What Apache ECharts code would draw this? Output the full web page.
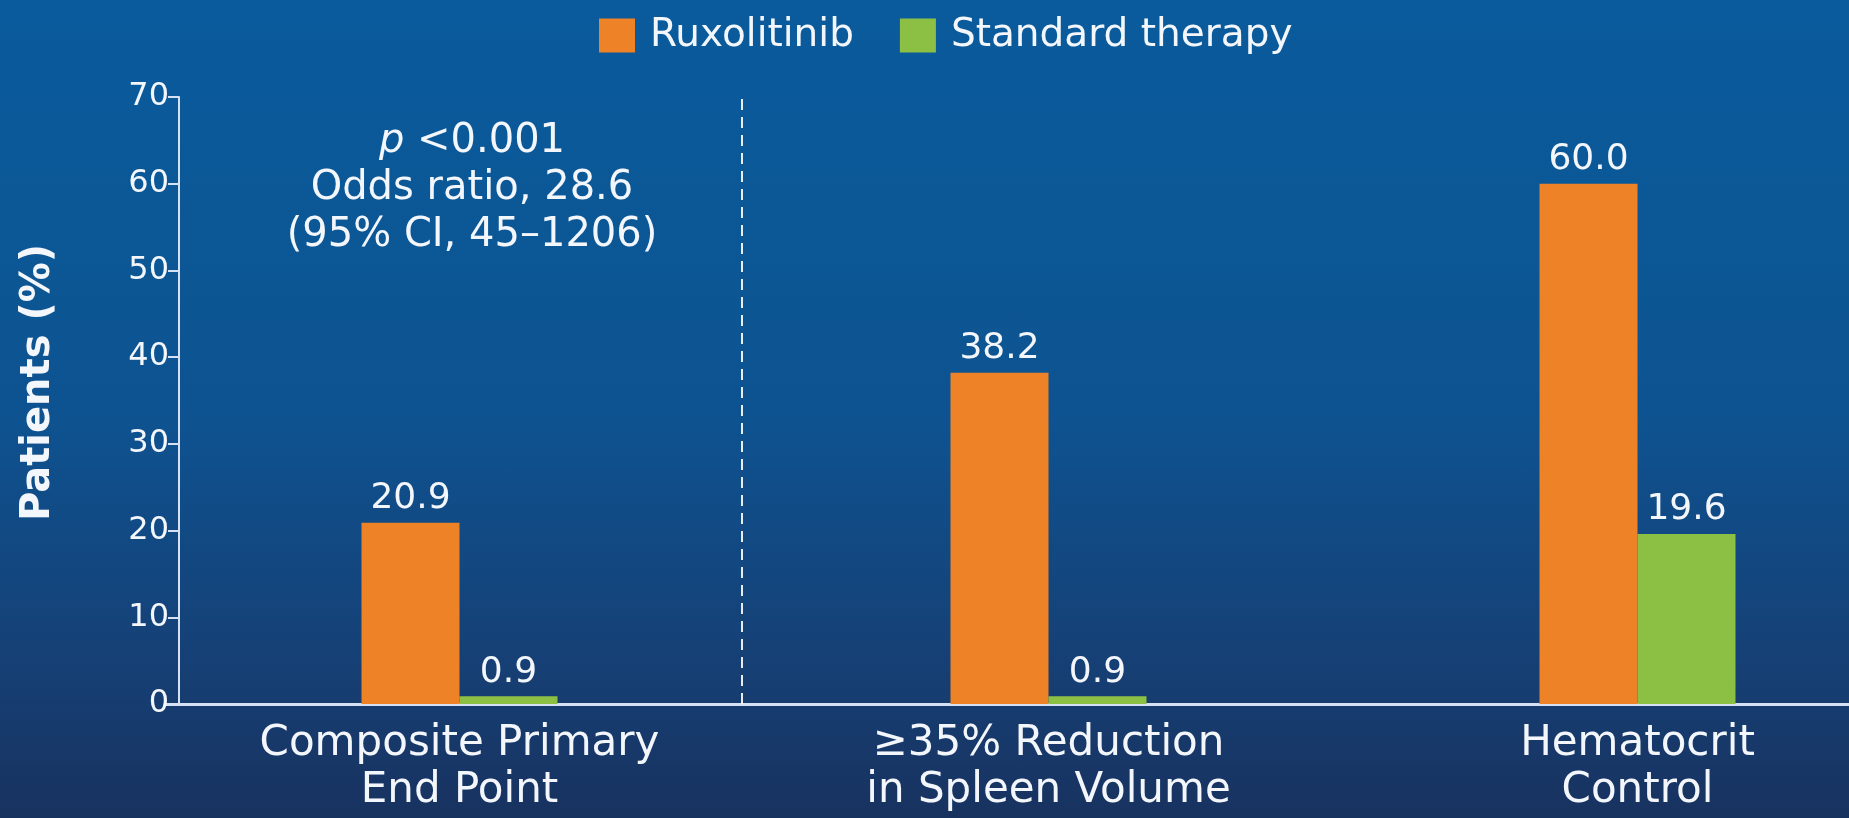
<!DOCTYPE html>
<html>
<head>
<meta charset="utf-8">
<title>Ruxolitinib vs Standard therapy</title>
<script src="https://cdn.jsdelivr.net/npm/echarts@6/dist/echarts.min.js"></script>
<style>
  html, body { margin: 0; padding: 0; }
  body {
    width: 1849px; height: 818px; overflow: hidden;
    background: linear-gradient(180deg, #0a5b9d 0%, #0c5694 35%, #0e5290 52%, #163f74 82%, #18325f 100%);
  }
  #chart { width: 1849px; height: 818px; }
</style>
</head>
<body>
<div id="chart"></div>
<script>
// Chart data
const categories = ['Composite Primary\nEnd Point', '≥35% Reduction\nin Spleen Volume', 'Hematocrit\nControl'];
const ruxolitinib = [20.9, 38.2, 60.0];
const standardTherapy = [0.9, 0.9, 19.6];
const seriesNames = ['Ruxolitinib', 'Standard therapy'];
const yTicks = { min: 0, max: 70, interval: 10 };
// divider between the primary end point and the secondary outcomes (in category slots)
const dividerAt = [0.98];

const FONT = 'DejaVu Sans';
const WHITE = '#f3f6fb';
const ORANGE = '#ed8226';
const GREEN = '#8cc044';
const AXIS = '#d6e2f3';

const chart = echarts.init(document.getElementById('chart'), null, { renderer: 'canvas' });

const valueLabel = {
  show: true,
  position: 'top',
  distance: 6,
  color: WHITE,
  fontFamily: FONT,
  fontSize: 36,
  formatter: p => p.value.toFixed(1)
};

chart.setOption({
  backgroundColor: 'transparent',
  animation: false,
  textStyle: { fontFamily: FONT },
  title: {
    left: 467,
    top: 113,
    textAlign: 'center',
    text: '{i|p} <0.001\nOdds ratio, 28.6\n(95% CI, 45–1206)',
    textStyle: {
      color: WHITE,
      fontFamily: FONT,
      fontSize: 40,
      fontWeight: 'normal',
      lineHeight: 47,
      align: 'center',
      rich: {
        i: { fontStyle: 'italic', fontFamily: FONT, fontSize: 40, color: WHITE, lineHeight: 47 }
      }
    }
  },
  legend: {
    data: seriesNames,
    left: 594,
    top: 11,
    itemWidth: 36,
    itemHeight: 34,
    itemGap: 46,
    icon: 'rect',
    textStyle: { color: WHITE, fontFamily: FONT, fontSize: 39, padding: [0, 0, 0, 10] }
  },
  grid: {
    left: 165,
    top: 97,
    width: 1767,
    height: 607,
    containLabel: false,
    outerBoundsMode: 'none'
  },
  xAxis: [
    {
      type: 'category',
      data: categories,
      boundaryGap: true,
      axisLine: { show: true, lineStyle: { color: AXIS, width: 3 } },
      axisTick: { show: false },
      axisLabel: {
        color: WHITE,
        fontFamily: FONT,
        fontSize: 42,
        lineHeight: 47,
        margin: 17,
        align: 'center'
      },
      splitLine: { show: false }
    },
    {
      // hidden linear companion axis spanning the same category slots, used for the divider
      type: 'value',
      min: 0,
      max: categories.length,
      show: false,
      position: 'bottom'
    }
  ],
  yAxis: {
    type: 'value',
    min: yTicks.min,
    max: yTicks.max,
    interval: yTicks.interval,
    offset: -14,
    name: 'Patients (%)',
    nameLocation: 'middle',
    nameGap: 120,
    nameRotate: 90,
    nameTextStyle: { color: WHITE, fontFamily: FONT, fontSize: 40, fontWeight: 'bold', padding: [0, 0, 0, 36] },
    axisLine: { show: true, lineStyle: { color: AXIS, width: 2 } },
    axisTick: { show: true, length: 11, lineStyle: { color: AXIS, width: 2 } },
    axisLabel: { color: WHITE, fontFamily: FONT, fontSize: 32, margin: 10 },
    splitLine: { show: false }
  },
  series: [
    {
      name: seriesNames[0],
      type: 'bar',
      data: ruxolitinib,
      barWidth: 98,
      barGap: '0%',
      itemStyle: { color: ORANGE },
      label: valueLabel
    },
    {
      name: seriesNames[1],
      type: 'bar',
      data: standardTherapy,
      barWidth: 98,
      barGap: '0%',
      itemStyle: { color: GREEN },
      label: valueLabel
    },
    {
      name: 'divider',
      type: 'line',
      xAxisIndex: 1,
      data: [],
      silent: true,
      markLine: {
        silent: true,
        symbol: ['none', 'none'],
        label: { show: false },
        lineStyle: { color: 'rgba(255,255,255,0.9)', width: 2, type: [11, 7] },
        data: dividerAt.map(v => ({ xAxis: v }))
      }
    }
  ]
});
</script>
</body>
</html>
